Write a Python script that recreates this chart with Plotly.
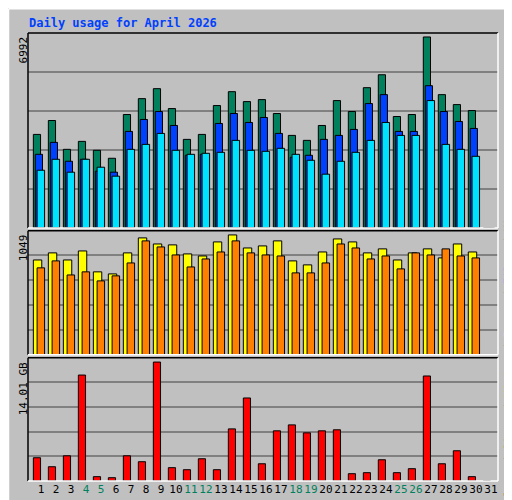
import plotly.graph_objects as go

days = list(range(1, 32))
hits  = [3423,3933,2877,3168,2841,2549,4152,4734,5099,4370,3241,3423,4480,4989,4625,4698,4188,3387,3205,3751,4662,4261,5135,5608,4079,4152,6992,4880,4516,4297,0]
files = [2695,3132,2440,2513,2076,2040,3533,3970,4261,3751,2659,2695,3824,4188,3861,4043,3460,2586,2659,3241,3387,3606,4553,4880,3533,3533,5208,4261,3897,3642,0]
pages = [2112,2513,2040,2513,2222,1894,2877,3059,3460,2841,2695,2732,2768,3205,2841,2804,2914,2695,2477,1967,2440,2768,3205,3861,3387,3387,4662,3059,2877,2622,0]
visits = [830,892,830,909,726,708,892,1023,970,962,883,865,988,1049,935,953,997,822,787,900,1014,988,892,927,830,892,927,848,970,900,0]
sites  = [761,822,699,726,647,691,804,997,944,874,769,839,900,997,892,874,865,717,717,804,970,935,839,865,752,892,874,927,865,848,0]
volume = [2.74,1.68,2.97,12.48,0.51,0.39,2.97,2.27,14.01,1.57,1.33,2.62,1.33,6.14,9.78,2.03,5.91,6.61,5.67,5.91,6.03,0.86,0.98,2.50,0.98,1.45,12.37,2.03,3.56,0.51,0]
weekend = {4,5,11,12,18,19,25,26}
title = "Daily usage for April 2026"
max_hits_label, max_visits_label, max_vol_label = "6992", "1049", "14.01 GB"

C_HITS, C_FILES, C_PAGES = "#00805c", "#0040ff", "#00e0ff"
C_VIS, C_SITES, C_VOL = "#ffff00", "#ff8000", "#ff0000"
BG = "#c0c0c0"
FONT = "DejaVu Sans Mono"

fig = go.Figure()
line = dict(color="black", width=1)
def bar(y, color, off, w, ax):
    fig.add_trace(go.Bar(x=days, y=y, marker=dict(color=color, line=line),
                         offset=off, width=w, xaxis="x", yaxis=ax, hoverinfo="skip"))
bar(hits, C_HITS, -0.51, 0.48, "y")
bar(files, C_FILES, -0.38, 0.48, "y")
bar(pages, C_PAGES, -0.26, 0.5, "y")
bar(visits, C_VIS, -0.51, 0.56, "y2")
bar(sites, C_SITES, -0.26, 0.5, "y2")
bar(volume, C_VOL, -0.51, 0.48, "y3")

def yax(dom, rng):
    return dict(domain=dom, range=[0, rng], tickvals=[rng*i/5 for i in range(1, 5)],
                showticklabels=False, showgrid=True, gridcolor="#808080", gridwidth=1.5,
                zeroline=False, fixedrange=True)

ticktext = [f'<span style="color:{"#00805c" if d in weekend else "black"}">{d}</span>' for d in days]
fig.update_layout(
    width=512, height=500, paper_bgcolor=BG, plot_bgcolor=BG,
    margin=dict(l=20, r=22, t=25, b=24), showlegend=False, barmode="overlay",
    xaxis=dict(range=[0.133, 31.47], tickvals=days, ticktext=ticktext, showgrid=False, anchor="y3",
               zeroline=False, ticks="", tickangle=0, tickfont=dict(family=FONT, size=11, color="black")),
    yaxis=yax([0.565, 1], 6992*196/192),
    yaxis2=yax([0.2816, 0.5588], 1049*125/120.7),
    yaxis3=yax([0, 0.275], 14.01*124/119.7),
)

shapes = []
for ya in ["y", "y2", "y3"]:
    d = f"{ya} domain"
    shapes += [
        dict(type="line", xref="x domain", yref=d, x0=0, x1=1, y0=1, y1=1, line=dict(color="black", width=1.5)),
        dict(type="line", xref="x domain", yref=d, x0=0, x1=0, y0=0, y1=1, line=dict(color="black", width=1.5)),
        dict(type="line", xref="x domain", yref=d, x0=0, x1=1, y0=0, y1=0, line=dict(color="white", width=1.5)),
        dict(type="line", xref="x domain", yref=d, x0=1, x1=1, y0=0, y1=1, line=dict(color="white", width=1.5)),
    ]
px = lambda p: (p - 20) / 470
py = lambda p: (476 - p) / 451
shapes += [
    dict(type="line", xref="paper", yref="paper", x0=px(0.5), x1=px(511.5), y0=py(0.5), y1=py(0.5), line=dict(color="white", width=1.5)),
    dict(type="line", xref="paper", yref="paper", x0=px(0.5), x1=px(0.5), y0=py(0.5), y1=py(499.5), line=dict(color="white", width=1.5)),
    dict(type="line", xref="paper", yref="paper", x0=px(511), x1=px(511), y0=py(0.5), y1=py(499.5), line=dict(color="black", width=1.5)),
    dict(type="line", xref="paper", yref="paper", x0=px(0.5), x1=px(511.5), y0=py(499), y1=py(499), line=dict(color="black", width=1.5)),
]
fig.update_layout(shapes=shapes)

ann = [
    dict(text=f"<b>{title}</b>", x=px(19), y=py(15), xanchor="left", yanchor="middle",
         font=dict(family=FONT, size=12, color="#0040ff")),
    dict(text=max_hits_label, x=px(15), y=py(27), textangle=-90, xanchor="center", yanchor="top",
         font=dict(family=FONT, size=11, color="black")),
    dict(text=max_visits_label, x=px(15), y=py(226), textangle=-90, xanchor="center", yanchor="top",
         font=dict(family=FONT, size=11, color="black")),
    dict(text=max_vol_label, x=px(15), y=py(355), textangle=-90, xanchor="center", yanchor="top",
         font=dict(family=FONT, size=11, color="black")),
]
sl = '<span style="color:#404040"> / </span>'
legend = (f'<span style="color:{C_VOL}">Volume</span>{sl}<span style="color:{C_SITES}">Sites</span>{sl}'
          f'<span style="color:{C_VIS}">Visits</span>{sl}<span style="color:{C_PAGES}">Pages</span>{sl}'
          f'<span style="color:{C_FILES}">Files</span>{sl}<span style="color:{C_HITS}">Hits</span>')
ann.append(dict(text=legend, x=px(501), y=py(352), textangle=-90, xanchor="center", yanchor="middle",
                font=dict(family=FONT, size=11, color="black")))
for a in ann:
    a.update(xref="paper", yref="paper", showarrow=False)
fig.update_layout(annotations=ann)

fig.write_html("out.html", config={"displayModeBar": False})
